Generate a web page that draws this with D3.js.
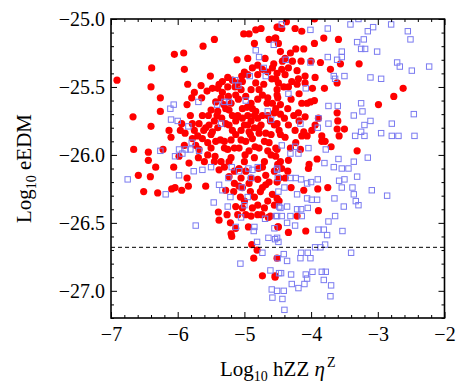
<!DOCTYPE html>
<html>
<head>
<meta charset="utf-8">
<script src="https://cdn.jsdelivr.net/npm/d3@7"></script>
<style>
  html, body { margin: 0; padding: 0; background: #fff; }
  svg text { font-family: "Liberation Serif", "Times New Roman", serif; fill: #000; }
</style>
</head>
<body>
<div class="div-chart"></div>
<script>
// ticks
const xTicks = [-7, -6, -5, -4, -3, -2];
const yTicks = [-27.0, -26.5, -26.0, -25.5, -25.0];
const edmBound = -26.68;

// red filled dots: [log10 hZZ eta^Z, log10 eEDM]
const redPoints = [
  [-6.91,-25.45],[-6.67,-25.72],[-6.66,-25.96],[-6.59,-26.15],[-6.51,-26.27],[-6.44,-25.98],[-6.44,-26.04],
  [-6.41,-26.16],[-6.40,-25.50],[-6.40,-25.79],[-6.39,-25.36],[-6.33,-26.09],[-6.30,-26.28],[-6.26,-25.58],
  [-6.26,-25.68],[-6.22,-25.96],[-6.13,-25.82],[-6.10,-25.87],[-6.09,-26.25],[-6.06,-26.09],[-6.05,-25.26],
  [-6.04,-26.24],[-5.98,-26.01],[-5.96,-25.82],[-5.94,-26.26],[-5.91,-25.25],[-5.90,-25.37],[-5.94,-25.77],
  [-5.90,-25.93],[-5.89,-25.84],[-5.86,-26.17],[-5.85,-25.48],[-5.84,-26.23],[-5.83,-26.06],[-5.86,-25.63],
  [-5.81,-25.71],[-5.79,-25.58],[-5.78,-25.77],[-5.75,-25.54],[-5.73,-25.93],[-5.69,-26.02],[-5.65,-25.49],
  [-5.64,-25.58],[-5.63,-25.71],[-5.62,-25.20],[-5.61,-25.82],[-5.60,-26.05],[-5.58,-26.23],[-5.56,-25.53],
  [-5.54,-25.71],[-5.53,-25.78],[-5.51,-25.42],[-5.50,-25.95],[-5.48,-25.51],[-5.48,-25.83],[-5.45,-25.15],
  [-5.44,-26.01],[-5.43,-25.61],[-5.41,-25.71],[-5.40,-25.80],[-5.39,-26.42],[-5.38,-25.48],[-5.38,-26.48],
  [-5.36,-25.89],[-5.35,-26.05],[-5.34,-25.73],[-5.33,-25.54],[-5.31,-25.63],[-5.30,-25.95],[-5.28,-25.77],
  [-5.26,-26.44],[-5.25,-25.43],[-5.24,-25.57],[-5.23,-25.67],[-5.23,-26.16],[-5.21,-26.50],[-5.20,-26.02],
  [-5.20,-26.58],[-5.19,-26.60],[-5.18,-25.82],[-5.16,-26.27],[-5.15,-25.95],[-5.14,-25.50],[-5.13,-26.38],
  [-5.13,-26.54],[-5.11,-25.30],[-5.10,-25.71],[-5.09,-25.59],[-5.08,-26.10],[-5.06,-26.31],[-5.05,-25.89],
  [-5.04,-25.42],[-5.03,-26.39],[-5.01,-25.11],[-5.00,-25.39],[-5.00,-25.78],[-4.99,-26.00],[-4.98,-26.44],
  [-4.96,-25.65],[-4.95,-25.29],[-4.94,-26.53],[-4.93,-26.21],[-4.93,-25.11],[-4.91,-25.85],[-4.90,-25.52],
  [-4.89,-26.66],[-4.88,-26.39],[-4.86,-26.76],[-4.85,-25.18],[-4.85,-25.71],[-4.84,-25.94],[-4.83,-25.08],
  [-4.81,-26.70],[-4.80,-25.41],[-4.80,-25.59],[-4.79,-26.10],[-4.78,-25.80],[-4.76,-26.27],[-4.75,-25.07],
  [-4.74,-26.44],[-4.73,-26.89],[-4.71,-25.48],[-4.70,-25.90],[-4.69,-25.29],[-4.68,-26.15],[-4.66,-25.62],
  [-4.65,-26.34],[-4.64,-26.46],[-4.63,-25.15],[-4.61,-25.75],[-4.60,-26.00],[-4.59,-25.44],[-4.58,-26.29],
  [-4.56,-25.33],[-4.55,-25.69],[-4.54,-26.89],[-4.53,-25.14],[-4.53,-25.95],[-4.51,-25.52],[-4.50,-26.53],
  [-4.49,-25.06],[-4.48,-26.17],[-4.48,-25.82],
  [-5.03,-25.66],[-4.95,-25.71],[-4.90,-25.75],[-4.85,-25.80],[-4.80,-25.73],[-4.75,-25.78],[-4.93,-25.83],
  [-4.88,-25.88],[-4.83,-25.68],[-4.78,-25.84],[-4.73,-25.71],[-4.98,-25.90],[-5.05,-25.82],[-5.13,-25.75],
  [-5.18,-25.71],[-5.23,-25.78],[-5.08,-25.95],[-5.00,-26.05],[-4.93,-25.97],[-4.85,-26.02],[-4.78,-25.95],
  [-4.70,-26.05],[-4.65,-25.97],[-4.60,-25.85],[-4.55,-25.78],[-4.65,-25.58],[-4.73,-25.56],[-4.78,-25.52],
  [-4.83,-25.47],[-4.90,-25.62],[-4.98,-25.57],[-5.05,-25.52],[-5.13,-25.56],[-5.20,-25.62],[-5.28,-25.66],
  [-5.35,-25.58],[-5.40,-25.68],[-5.45,-25.75],[-5.50,-25.67],[-5.58,-25.80],[-5.63,-25.88],[-5.70,-25.86],
  [-5.75,-25.82],[-5.68,-25.77],[-5.78,-25.88],[-5.68,-25.96],[-5.55,-26.00],[-5.45,-26.05],[-5.38,-26.11],
  [-5.30,-26.09],[-5.23,-26.05],[-5.15,-26.12],[-5.05,-26.17],[-4.98,-26.12],[-4.90,-26.17],[-4.80,-26.18],
  [-4.73,-26.24],[-4.68,-26.22],[-4.63,-26.20],[-4.55,-26.12],[-4.50,-26.07],[-4.65,-25.71],[-4.58,-25.62],
  [-4.50,-25.58],[-4.53,-25.44],[-4.58,-25.36],[-4.65,-25.39],[-4.73,-25.37],[-4.80,-25.34],[-4.88,-25.36],
  [-4.95,-25.41],[-5.03,-25.46],[-5.10,-25.47],[-5.18,-25.45],[-5.25,-25.50],[-5.33,-25.46],[-5.40,-25.51],
  [-5.43,-25.90],[-5.50,-25.85],[-5.55,-25.91],[-5.30,-25.90],[-5.25,-25.96],[-5.20,-25.89],[-5.13,-25.85],
  [-5.03,-25.73],[-4.95,-25.78],[-4.88,-25.66],[-4.68,-25.84],[-4.63,-25.91],[-4.53,-26.01],[-4.73,-26.09],
  [-4.80,-26.37],[-4.85,-26.31],[-4.91,-26.27],[-5.00,-26.34],[-5.08,-26.23],[-5.15,-26.21],[-5.28,-26.26],
  [-5.10,-26.44],[-5.03,-26.24],[-4.70,-26.39],[-4.61,-26.45],[-4.55,-26.37],[-4.48,-26.34],[-4.80,-26.44],
  [-4.90,-26.45],
  [-4.51,-25.06],[-4.44,-25.07],[-4.37,-25.02],[-4.24,-25.07],[-4.14,-25.09],[-3.95,-25.00],[-3.81,-25.14],
  [-3.59,-25.15],[-3.95,-25.18],[-4.23,-25.22],[-4.11,-25.22],[-4.31,-25.25],[-4.46,-25.24],[-4.43,-25.31],
  [-4.28,-25.31],[-4.15,-25.31],[-4.00,-25.31],[-3.86,-25.32],[-3.56,-25.33],[-3.28,-25.33],[-3.71,-25.37],
  [-4.34,-25.36],[-4.44,-25.37],[-4.21,-25.38],[-4.51,-25.40],[-4.39,-25.41],[-4.09,-25.42],[-3.94,-25.43],
  [-4.19,-25.44],[-4.29,-25.46],[-3.61,-25.47],[-4.49,-25.47],[-4.41,-25.50],[-4.09,-25.47],[-3.98,-25.51],
  [-3.80,-25.51],[-4.34,-25.50],[-4.21,-25.48],[-4.51,-25.56],[-4.18,-25.55],[-2.62,-25.51],[-2.76,-25.57],
  [-2.99,-25.63],[-4.30,-25.59],[-4.14,-25.62],[-4.06,-25.62],[-3.95,-25.60],[-4.01,-25.61],[-4.46,-25.63],
  [-4.53,-25.66],[-4.35,-25.66],[-3.61,-25.69],[-4.19,-25.69],[-4.46,-25.70],[-4.26,-25.71],[-4.09,-25.72],
  [-3.89,-25.73],[-4.40,-25.73],[-4.18,-25.75],[-3.60,-25.75],[-3.94,-25.78],[-4.51,-25.77],[-4.34,-25.78],
  [-3.61,-25.81],[-3.50,-25.81],[-4.24,-25.82],[-3.99,-25.82],[-4.11,-25.83],[-4.46,-25.85],[-3.58,-25.86],
  [-3.84,-25.86],[-4.14,-25.86],[-4.06,-25.86],[-4.39,-25.87],[-3.79,-25.90],[-3.84,-25.90],[-4.23,-25.91],
  [-3.70,-25.94],[-4.31,-25.95],[-3.31,-25.97],[-4.16,-25.96],[-4.51,-25.96],[-4.34,-26.04],[-3.91,-26.03],
  [-4.03,-26.07],[-4.46,-26.05],[-4.04,-26.10],[-4.44,-26.10],[-4.35,-26.12],[-4.39,-26.17],[-4.51,-26.20],
  [-3.75,-26.24],[-3.90,-26.25],[-4.30,-26.24],[-4.11,-26.26],[-4.51,-26.32],[-3.89,-26.41],[-4.21,-26.45],
  [-4.49,-26.53],[-4.34,-26.57],[-4.08,-26.56],[-4.51,-26.76],[-4.54,-26.90],[-4.39,-25.29],[-4.54,-25.14],
  [-4.49,-25.18]
];

// blue open squares
const bluePoints = [
  [-6.75,-26.18],[-6.26,-25.97],[-6.18,-26.29],[-6.11,-25.66],[-6.10,-25.74],[-6.06,-25.63],[-6.04,-26.01],
  [-6.00,-25.75],[-5.98,-25.96],[-5.98,-26.15],[-5.93,-25.99],[-5.88,-25.96],[-5.84,-25.79],[-5.81,-25.96],
  [-5.79,-25.91],[-5.76,-26.12],[-5.73,-26.52],[-5.69,-25.61],[-5.68,-25.97],[-5.63,-26.11],[-5.50,-26.09],
  [-5.46,-26.35],[-5.41,-25.63],[-5.38,-26.22],[-5.35,-25.77],[-5.33,-26.26],[-5.30,-25.61],[-5.25,-26.38],
  [-5.24,-26.17],[-5.23,-25.61],[-5.21,-26.31],[-5.19,-26.09],[-5.14,-25.45],[-5.13,-26.53],[-5.09,-25.49],
  [-5.08,-26.12],[-5.06,-26.80],[-5.05,-26.46],[-5.04,-26.24],[-5.00,-26.37],[-4.98,-25.60],[-4.95,-26.31],
  [-4.94,-26.10],[-4.92,-25.42],[-4.90,-26.17],[-4.88,-26.11],[-4.86,-26.56],[-4.85,-26.53],[-4.83,-25.23],
  [-4.81,-26.64],[-4.80,-26.09],[-4.78,-25.28],[-4.73,-26.72],[-4.71,-25.36],[-4.69,-26.47],[-4.68,-25.42],
  [-4.65,-25.68],[-4.64,-26.61],[-4.61,-26.85],[-4.60,-25.74],[-4.59,-26.99],[-4.58,-27.05],[-4.56,-25.19],
  [-4.55,-26.54],[-4.54,-26.62],[-4.53,-26.45],[-4.51,-26.11],[-4.50,-26.17],[-4.49,-26.27],[-4.48,-26.38],
  [-4.50,-26.76],[-4.48,-26.87],
  [-4.44,-25.04],[-4.01,-25.08],[-3.75,-25.07],[-3.41,-25.04],[-3.29,-25.00],[-3.15,-25.09],[-3.07,-25.06],
  [-2.80,-25.04],[-2.55,-25.09],[-2.51,-25.15],[-3.21,-25.15],[-3.31,-25.17],[-3.25,-25.22],[-3.19,-25.22],
  [-3.01,-25.24],[-3.54,-25.24],[-3.54,-25.28],[-3.75,-25.28],[-3.61,-25.30],[-4.01,-25.32],[-4.38,-25.30],
  [-2.71,-25.32],[-2.67,-25.35],[-2.49,-25.38],[-2.23,-25.35],[-3.66,-25.42],[-3.50,-25.42],[-3.64,-25.44],
  [-3.11,-25.43],[-2.95,-25.44],[-4.08,-25.51],[-4.34,-25.55],[-3.25,-25.62],[-3.74,-25.64],[-3.60,-25.64],
  [-3.23,-25.68],[-2.46,-25.70],[-3.36,-25.71],[-3.11,-25.75],[-3.20,-25.78],[-3.89,-25.73],[-3.74,-25.77],
  [-4.16,-25.77],[-2.79,-25.77],[-3.90,-25.80],[-3.25,-25.83],[-2.95,-25.84],[-3.34,-25.86],[-3.20,-25.86],
  [-2.79,-25.86],[-2.69,-25.86],[-2.45,-25.86],[-4.44,-25.93],[-4.24,-25.94],[-4.04,-25.95],[-3.78,-25.96],
  [-4.31,-25.99],[-4.19,-25.99],[-3.15,-26.02],[-3.59,-26.03],[-3.36,-26.05],[-3.80,-26.06],[-3.66,-26.09],
  [-3.54,-26.10],[-3.44,-26.10],[-4.51,-26.10],[-3.31,-26.16],[-4.31,-26.17],[-4.23,-26.17],[-4.15,-26.18],
  [-3.90,-26.18],[-3.50,-26.18],[-3.58,-26.19],[-4.06,-26.21],[-4.00,-26.20],[-4.40,-26.24],[-3.54,-26.24],
  [-3.38,-26.24],[-3.09,-26.26],[-4.21,-26.29],[-3.65,-26.32],[-3.36,-26.29],[-2.86,-26.30],[-4.06,-26.32],
  [-3.99,-26.33],[-3.91,-26.33],[-4.46,-26.39],[-4.36,-26.38],[-4.21,-26.40],[-4.15,-26.40],[-4.05,-26.39],
  [-3.51,-26.38],[-3.33,-26.34],[-3.29,-26.37],[-4.51,-26.45],[-4.44,-26.45],[-4.31,-26.45],[-4.14,-26.45],
  [-3.64,-26.45],[-3.74,-26.49],[-4.36,-26.50],[-4.24,-26.52],[-3.89,-26.55],[-3.81,-26.55],[-3.53,-26.56],
  [-3.76,-26.59],[-4.51,-26.61],[-4.49,-26.64],[-3.79,-26.66],[-3.94,-26.68],[-3.86,-26.68],[-3.40,-26.72],
  [-4.15,-26.72],[-4.05,-26.72],[-4.41,-26.73],[-4.16,-26.76],[-4.01,-26.76],[-4.36,-26.78],[-4.45,-26.87],
  [-4.30,-26.88],[-4.08,-26.88],[-3.98,-26.86],[-3.84,-26.86],[-3.78,-26.86],[-4.06,-26.91],[-4.10,-26.95],
  [-3.81,-26.92],[-3.70,-26.96],[-4.29,-26.95],[-4.19,-26.98],[-4.51,-27.00],[-4.41,-27.00],[-3.71,-27.04],
  [-4.43,-27.06],[-4.40,-27.14]
];

const width = 459, height = 383;
const frame = { left: 111, right: 444.5, top: 19, bottom: 318 };
const serif = '"Liberation Serif", "Times New Roman", serif';

const svg = d3.select('.div-chart')
  .append('svg')
  .attr('width', width)
  .attr('height', height);

const x = d3.scaleLinear().domain([-7, -2]).range([frame.left, frame.right]);
const y = d3.scaleLinear().domain([-27.2, -25.0]).range([frame.bottom, frame.top]);

const fmtX = d => '\u2212' + Math.abs(d);
const fmtY = d => '\u2212' + Math.abs(d).toFixed(1);

svg.append('clipPath').attr('id', 'clip')
  .append('rect')
  .attr('x', frame.left).attr('y', frame.top)
  .attr('width', frame.right - frame.left).attr('height', frame.bottom - frame.top);

const marks = svg.append('g').attr('clip-path', 'url(#clip)');

// red dots
marks.selectAll('.dot')
  .data(redPoints)
  .enter().append('circle')
  .attr('class', 'dot')
  .attr('cx', d => x(d[0]))
  .attr('cy', d => y(d[1]))
  .attr('r', 3.6)
  .attr('fill', '#ff0000');

// blue squares
const sq = 5.4;
marks.selectAll('.sq')
  .data(bluePoints)
  .enter().append('rect')
  .attr('class', 'sq')
  .attr('x', d => x(d[0]) - sq / 2)
  .attr('y', d => y(d[1]) - sq / 2)
  .attr('width', sq)
  .attr('height', sq)
  .attr('fill', 'none')
  .attr('stroke', '#7b7bf0')
  .attr('stroke-width', 1);

// dashed bound
svg.append('line')
  .attr('x1', frame.left).attr('x2', frame.right)
  .attr('y1', y(edmBound)).attr('y2', y(edmBound))
  .attr('stroke', '#000')
  .attr('stroke-width', 1)
  .attr('stroke-dasharray', '4,3');

// minor ticks
const xMinor = d3.range(-7, -2.0001, 0.2).filter(v => Math.abs(v - Math.round(v)) > 0.01);
const yMinor = d3.range(-27.2, -24.9999, 0.1).filter(v => Math.abs(v * 2 - Math.round(v * 2)) > 0.01);

const axisStyle = g => {
  g.attr('font-family', serif).attr('font-size', 20);
  g.select('.domain').remove();
  g.selectAll('line').attr('stroke', '#000').attr('stroke-width', 1);
  g.selectAll('text').style('font-family', serif).style('font-size', '20px');
};

// bottom
svg.append('g').attr('transform', `translate(0,${frame.bottom})`)
  .call(d3.axisBottom(x).tickValues(xTicks).tickSize(-6).tickPadding(9).tickFormat(fmtX))
  .call(axisStyle);
svg.append('g').attr('transform', `translate(0,${frame.bottom})`)
  .call(d3.axisBottom(x).tickValues(xMinor).tickSize(-3).tickFormat(''))
  .call(axisStyle);
// top
svg.append('g').attr('transform', `translate(0,${frame.top})`)
  .call(d3.axisTop(x).tickValues(xTicks).tickSize(-6).tickFormat(''))
  .call(axisStyle);
svg.append('g').attr('transform', `translate(0,${frame.top})`)
  .call(d3.axisTop(x).tickValues(xMinor).tickSize(-3).tickFormat(''))
  .call(axisStyle);
// left
svg.append('g').attr('transform', `translate(${frame.left},0)`)
  .call(d3.axisLeft(y).tickValues(yTicks).tickSize(-6).tickPadding(6).tickFormat(fmtY))
  .call(axisStyle);
svg.append('g').attr('transform', `translate(${frame.left},0)`)
  .call(d3.axisLeft(y).tickValues(yMinor).tickSize(-3).tickFormat(''))
  .call(axisStyle);
// right
svg.append('g').attr('transform', `translate(${frame.right},0)`)
  .call(d3.axisRight(y).tickValues(yTicks).tickSize(-6).tickFormat(''))
  .call(axisStyle);
svg.append('g').attr('transform', `translate(${frame.right},0)`)
  .call(d3.axisRight(y).tickValues(yMinor).tickSize(-3).tickFormat(''))
  .call(axisStyle);

// frame
svg.append('rect')
  .attr('x', frame.left).attr('y', frame.top)
  .attr('width', frame.right - frame.left).attr('height', frame.bottom - frame.top)
  .attr('fill', 'none')
  .attr('stroke', '#000')
  .attr('stroke-width', 1.6);

// axis titles
const xt = svg.append('text')
  .attr('x', (frame.left + frame.right) / 2)
  .attr('y', 376)
  .attr('text-anchor', 'middle')
  .style('font-family', serif)
  .style('font-size', '21px');
xt.append('tspan').text('Log');
xt.append('tspan').attr('dy', 5).style('font-size', '14px').text('10');
xt.append('tspan').attr('dy', -5).text(' hZZ ');
xt.append('tspan').style('font-style', 'italic').text('\u03b7');
xt.append('tspan').attr('dy', -9).attr('dx', 2).style('font-size', '14px').text('Z');

const yt = svg.append('text')
  .attr('transform', `translate(31,${(frame.top + frame.bottom) / 2}) rotate(-90)`)
  .attr('text-anchor', 'middle')
  .style('font-family', serif)
  .style('font-size', '21px');
yt.append('tspan').text('Log');
yt.append('tspan').attr('dy', 5).style('font-size', '14px').text('10');
yt.append('tspan').attr('dy', -5).text(' eEDM');
</script>
</body>
</html>
